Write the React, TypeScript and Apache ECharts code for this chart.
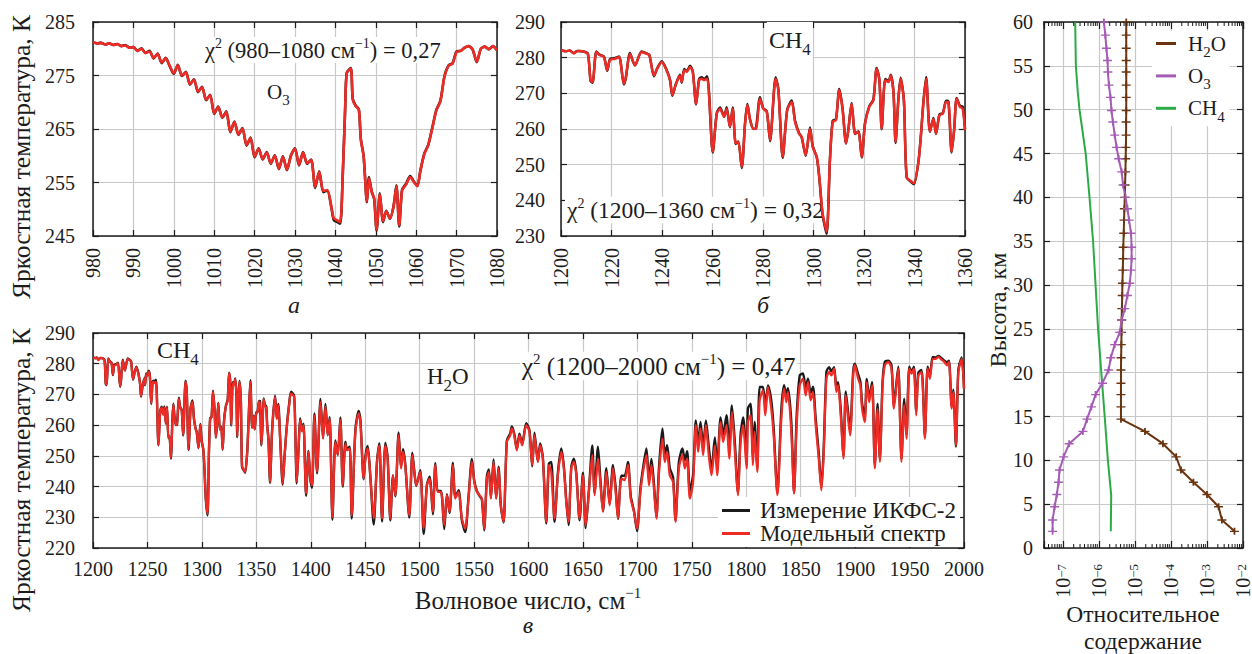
import React, { useEffect, useRef } from 'react';
import * as echarts from 'echarts';

// ---------- Brightness temperature spectra (K): IKFS-2 measurement and model ----------

// O3 band, 980–1080 cm-1
const o3Wavenumber = [
  980, 981, 982, 983, 984, 985, 986, 987, 988, 989, 990, 991, 992, 993, 994, 995, 996, 997, 998, 999,
  1000, 1001, 1002, 1003, 1004, 1005, 1006, 1007, 1008, 1009, 1010, 1011, 1012, 1013, 1014, 1015, 1016, 1017, 1018, 1019,
  1020, 1021, 1022, 1023, 1024, 1025, 1026, 1027, 1028, 1029, 1030, 1031, 1032, 1033, 1034, 1035, 1036, 1037, 1038, 1039,
  1039.6, 1040.5, 1041.2, 1041.8, 1042.4, 1042.8, 1043.8, 1044.3, 1045, 1045.8, 1046.3, 1047, 1047.8, 1048.3, 1049, 1049.6,
  1050.2, 1051, 1051.8, 1052.6, 1053.5, 1054.4, 1055.1, 1055.8, 1056.5, 1057.5, 1058.5, 1059.5, 1060.3, 1061, 1062, 1063,
  1064, 1065, 1066, 1067, 1068, 1069, 1070, 1071, 1072, 1073, 1074, 1075, 1076, 1077, 1078, 1079, 1080,
];
const o3Model = [
  281.2, 281.0, 281.1, 280.8, 281.0, 280.7, 280.9, 280.5, 280.6, 280.2, 280.3, 279.6, 280.0, 279.2, 279.5, 278.3, 279.0, 277.4, 278.2, 276.8,
  275.4, 276.9, 275.0, 275.6, 273.4, 274.2, 272.0, 272.8, 270.5, 271.3, 267.9, 269.1, 267.2, 268.2, 264.5, 266.3, 264.0, 265.1, 262.0, 263.3,
  259.8, 261.3, 259.4, 260.6, 258.6, 260.0, 257.6, 259.8, 257.4, 260.0, 261.3, 258.3, 260.6, 258.6, 259.2, 254.2, 257.0, 253.4, 253.6, 250.5,
  248.3, 247.9, 247.6, 256.0, 268.5, 275.4, 276.3, 270.5, 269.3, 268.6, 263.0, 259.8, 251.5, 255.8, 253.2, 252.0,
  246.2, 252.8, 247.8, 249.6, 248.3, 250.5, 254.3, 247.0, 253.5, 254.6, 256.0, 255.0, 254.3, 257.0, 260.3, 262.0,
  265.2, 268.5, 270.2, 274.8, 276.8, 277.2, 279.4, 279.6, 280.2, 280.5, 279.8, 277.6, 280.0, 280.4, 279.9, 280.5, 279.7,
];
const o3Measured = [
  281.2, 281.0, 281.1, 280.8, 281.0, 280.7, 280.9, 280.5, 280.7, 280.2, 280.3, 279.6, 280.1, 279.2, 279.6, 278.2, 279.1, 277.3, 278.3, 276.7,
  275.3, 277.0, 274.9, 275.7, 273.3, 274.3, 271.9, 272.9, 270.4, 271.4, 267.8, 269.2, 267.1, 268.3, 264.4, 266.4, 263.9, 265.2, 261.9, 263.4,
  259.7, 261.4, 259.3, 260.7, 258.5, 260.1, 257.5, 259.9, 257.3, 260.1, 261.4, 258.2, 260.7, 258.5, 259.3, 254.0, 257.1, 253.2, 253.5, 250.3,
  248.0, 247.6, 247.3, 256.0, 268.5, 275.5, 276.4, 270.6, 269.4, 268.7, 263.1, 259.9, 251.3, 256.0, 253.3, 251.9,
  246.0, 253.0, 247.6, 249.7, 248.2, 250.6, 254.5, 246.8, 253.6, 254.8, 256.2, 255.1, 254.4, 257.1, 260.4, 262.1,
  265.3, 268.6, 270.3, 274.9, 276.9, 277.3, 279.5, 279.6, 280.2, 280.5, 279.8, 277.5, 280.0, 280.4, 279.9, 280.5, 279.7,
];

// CH4 band, 1200–1360 cm-1
const ch4Wavenumber = [
  1200, 1202, 1203.5, 1205, 1206.5, 1208.5, 1210.6, 1211.7, 1212.5, 1214, 1215.4, 1217, 1218.3, 1219.4, 1221.4, 1223,
  1224.9, 1225.7, 1227.3, 1229.3, 1231.9, 1233.9, 1235, 1236.8, 1238.1, 1239.9, 1241.8, 1243.2, 1244.1, 1245.4, 1247.1, 1247.8,
  1248.8, 1249.8, 1251.1, 1252.2, 1253.5, 1254.7, 1255.7, 1256.6, 1257.9, 1260.1, 1261.7, 1263, 1264.6, 1265.6, 1266.9, 1268,
  1269.2, 1270.2, 1271.6, 1272.9, 1273.8, 1274.9, 1276.2, 1277.2, 1278.8, 1280.1, 1281.5, 1282.8, 1285, 1286.1, 1287.8, 1289.6,
  1291.4, 1292.7, 1294.3, 1295.3, 1296.9, 1298.6, 1299.7, 1301.3, 1302.3, 1303.6, 1305.2, 1306.5, 1307.6, 1308.9, 1310.2, 1311.5,
  1312.9, 1313.8, 1315.1, 1316.5, 1317.8, 1319.1, 1320.4, 1322.1, 1323.7, 1325, 1326.1, 1327, 1328.4, 1329.7, 1330.6, 1331.7,
  1332.5, 1333.6, 1334.5, 1335.8, 1336.9, 1338.9, 1339.8, 1341.5, 1342.4, 1343.5, 1344.6, 1346.1, 1347.5, 1348.5, 1349.9, 1351.2,
  1352.5, 1353.4, 1354.7, 1355.7, 1356.7, 1358, 1359.1, 1360,
];
const ch4Model = [
  282.1, 281.8, 282.0, 281.2, 281.9, 281.8, 281.1, 273.7, 273.2, 281.6, 280.7, 280.2, 276.5, 279.3, 279.7, 280.2,
  272.7, 274.6, 281.1, 277.9, 281.6, 281.1, 280.7, 275.0, 276.9, 278.8, 276.5, 273.7, 269.5, 272.3, 275.0, 273.2,
  276.5, 276.0, 277.4, 276.0, 267.1, 273.7, 274.1, 273.7, 274.1, 253.6, 264.3, 265.7, 263.4, 265.7, 260.6, 265.7,
  256.0, 256.4, 249.4, 261.5, 266.7, 262.5, 260.1, 260.1, 268.5, 265.7, 264.8, 256.9, 274.1, 270.9, 252.2, 265.3,
  267.6, 262.0, 258.7, 257.8, 252.7, 260.1, 255.0, 252.2, 246.6, 236.4, 231.2, 251.3, 262.0, 262.5, 270.9, 265.7,
  256.0, 259.7, 267.1, 258.7, 259.2, 252.2, 261.5, 266.2, 268.0, 276.9, 273.7, 260.1, 273.7, 273.2, 275.0, 270.0,
  256.4, 268.0, 274.1, 268.0, 246.6, 245.2, 244.8, 250.4, 256.9, 267.1, 274.1, 259.2, 262.9, 258.7, 263.9, 264.3,
  267.6, 267.6, 253.6, 259.7, 268.5, 266.2, 265.7, 259.7,
];
const ch4Measured = [
  282.1, 281.8, 282.0, 281.3, 281.9, 281.8, 281.2, 273.5, 273.0, 281.7, 280.8, 280.3, 276.3, 279.6, 279.9, 280.3,
  272.5, 274.4, 281.3, 277.8, 281.7, 281.2, 280.8, 274.8, 277.0, 279.0, 276.6, 273.6, 269.3, 272.4, 275.2, 273.0,
  276.8, 276.2, 277.7, 276.1, 266.9, 274.0, 274.5, 274.0, 274.8, 253.4, 264.5, 266.0, 263.5, 266.1, 260.5, 266.0,
  255.8, 256.5, 249.1, 261.7, 267.0, 262.6, 260.0, 260.2, 268.9, 265.8, 265.0, 256.6, 274.5, 271.0, 251.9, 265.5,
  268.0, 262.3, 258.8, 257.7, 252.5, 260.4, 255.2, 252.0, 246.3, 236.0, 230.6, 251.2, 262.3, 262.7, 271.2, 265.8,
  255.9, 259.8, 267.3, 258.6, 259.4, 252.0, 261.6, 266.4, 268.2, 277.1, 273.8, 259.9, 274.0, 273.4, 275.2, 270.1,
  256.1, 268.2, 274.4, 268.1, 246.4, 245.0, 244.5, 250.5, 257.0, 267.3, 274.6, 259.2, 263.1, 258.6, 264.1, 264.4,
  267.9, 267.8, 253.4, 259.8, 268.7, 266.5, 266.2, 260.0,
];

// H2O band, 1360–2000 cm-1
const h2oWavenumber = [
  1361.2, 1362.6, 1364.5, 1367.2, 1368.8, 1370.2, 1372, 1374.2, 1376, 1377.9, 1380, 1381.9, 1384.7, 1385.8, 1387.1, 1388.8,
  1390.2, 1391.8, 1393.3, 1395.7, 1397.9, 1399.6, 1401.2, 1403.4, 1405.8, 1408.9, 1411.3, 1413.5, 1415.6, 1417.4, 1419.9, 1422.6,
  1424.8, 1427.2, 1429.4, 1431.8, 1433.3, 1435.8, 1437.6, 1441, 1444, 1445.6, 1448.6, 1450.2, 1452.3, 1454.7, 1457.8, 1460.9,
  1463, 1465.5, 1468.5, 1470.6, 1473.1, 1475.5, 1477.7, 1480.7, 1482.9, 1484.7, 1486.8, 1490.5, 1493.3, 1495.1, 1496.9, 1500.6,
  1503.7, 1506.7, 1509.2, 1512.2, 1514.4, 1516.5, 1519.6, 1522.6, 1525.1, 1527.5, 1530.6, 1532.7, 1535.8, 1538.8, 1541.9, 1544.9,
  1548, 1550.2, 1552.6, 1555, 1557.2, 1559.3, 1561.8, 1563.6, 1565.5, 1567.9, 1570.3, 1572.5, 1574.6, 1577.1, 1580.1, 1583.2,
  1584.7, 1586.9, 1589.3, 1591.7, 1594.2, 1597.9, 1600.9, 1603.4, 1605.5, 1608.6, 1610.7, 1613.2, 1616.3, 1618.7, 1620.9, 1623.9,
  1627, 1630.1, 1632.5, 1634.7, 1636.8, 1639.3, 1641.7, 1643.9, 1646.9, 1650, 1652.5, 1655.5, 1658.6, 1660.7, 1663.8, 1665.9,
  1668.4, 1671.5, 1674.5, 1677.6, 1680.1, 1682.2, 1685.3, 1688.3, 1691.4, 1693.9, 1696.9, 1699.7, 1702.8, 1705.2, 1708.3, 1710.7,
  1712.9, 1715, 1717.5, 1719.9, 1723, 1725.2, 1727.3, 1729.8, 1732.8, 1735, 1738.1, 1741.4, 1743.6, 1745.7, 1748.2, 1751.2,
  1753.7, 1755.8, 1758, 1760.4, 1762.9, 1765.6, 1768.1, 1771.2, 1773.3, 1776.4, 1778.8, 1781.9, 1784.4, 1786.8, 1789.6, 1792.3,
  1794.8, 1797.2, 1800.3, 1801.5, 1804, 1806.1, 1807.7, 1810.1, 1812.3, 1815.3, 1817.5, 1819.9, 1823, 1825.2, 1828.6, 1832.2,
  1834.7, 1836.8, 1838.3, 1841.4, 1843.9, 1846.3, 1849.1, 1852.1, 1854.6, 1856.7, 1859.2, 1861.3, 1863.8, 1866.6, 1869, 1871.2,
  1873.6, 1876.1, 1878.2, 1880.7, 1882.8, 1884.4, 1886.8, 1889.3, 1891.4, 1893.6, 1895.4, 1898.2, 1899.7, 1902.8, 1904.9, 1906.4,
  1908.9, 1910.7, 1912.9, 1915.6, 1918.1, 1920.6, 1922.7, 1925.2, 1927.3, 1930.4, 1933.4, 1935.6, 1937.4, 1939.6, 1942.6, 1945.1,
  1947.2, 1949.7, 1951.8, 1954, 1956.1, 1958, 1961, 1964.1, 1966.6, 1968.7, 1971.2, 1973.9, 1976.4, 1979.4, 1981.9, 1984.4,
  1986.2, 1988.7, 1990.2, 1992.6, 1994.8, 1997.9, 2000,
];
const h2oModel = [
  255.0, 241.5, 258.0, 269.2, 262.0, 266.5, 255.0, 241.0, 250.0, 258.9, 266.0, 270.3, 269.2, 258.0, 241.5, 252.0,
  261.6, 258.0, 260.0, 237.7, 251.3, 242.6, 240.4, 263.2, 244.8, 267.5, 255.6, 266.0, 256.7, 262.0, 230.1, 254.5,
  250.2, 261.6, 240.4, 254.0, 251.8, 252.4, 230.6, 257.8, 263.8, 261.0, 242.6, 249.1, 252.4, 243.7, 229.6, 248.0,
  253.4, 229.6, 253.4, 249.1, 229.6, 243.7, 237.2, 256.7, 245.9, 251.3, 247.0, 230.6, 250.2, 244.8, 240.4, 244.8,
  226.3, 240.4, 242.6, 231.8, 247.0, 238.3, 238.3, 227.4, 237.2, 231.8, 247.0, 236.1, 238.3, 229.6, 226.3, 236.1,
  248.0, 241.5, 238.3, 237.2, 236.1, 226.3, 242.6, 244.8, 236.1, 248.0, 236.1, 245.9, 233.9, 228.5, 254.5, 256.7,
  258.9, 256.7, 251.8, 256.7, 253.4, 260.0, 257.8, 247.0, 256.7, 248.0, 253.4, 249.1, 228.5, 247.0, 244.8, 229.6,
  243.7, 251.3, 245.9, 235.0, 228.5, 245.9, 248.0, 243.7, 229.6, 243.7, 227.4, 238.3, 250.2, 237.2, 249.1, 241.5,
  231.8, 244.8, 233.9, 245.9, 238.3, 229.6, 242.6, 242.1, 247.0, 236.1, 231.8, 226.3, 238.3, 244.8, 250.2, 240.4,
  247.0, 240.4, 229.6, 244.8, 255.6, 248.0, 251.3, 243.7, 241.5, 228.5, 245.9, 250.2, 245.9, 249.1, 236.1, 241.5,
  260.0, 251.3, 258.9, 250.2, 260.0, 250.2, 243.7, 253.4, 243.7, 261.0, 254.5, 260.0, 249.1, 264.3, 251.3, 237.2,
  254.5, 260.0, 245.9, 261.0, 263.2, 247.0, 257.8, 244.8, 268.1, 271.3, 263.2, 272.4, 265.4, 256.7, 237.2, 262.0,
  271.9, 267.5, 270.8, 257.8, 237.7, 260.0, 273.0, 275.1, 269.7, 274.0, 268.1, 270.8, 260.0, 249.1, 238.8, 251.3,
  275.1, 277.3, 276.2, 278.4, 270.8, 272.9, 263.2, 249.1, 269.7, 262.0, 256.7, 276.2, 279.5, 275.1, 272.9, 265.4,
  261.0, 274.0, 267.5, 272.9, 245.9, 265.4, 248.0, 272.9, 279.5, 280.6, 278.4, 265.4, 270.8, 278.4, 248.0, 266.5,
  255.6, 278.4, 276.8, 278.4, 263.2, 276.2, 277.3, 255.6, 278.4, 275.1, 281.6, 281.6, 282.2, 281.3, 280.6, 279.5,
  280.6, 265.4, 270.8, 253.4, 277.3, 281.6, 271.9,
];
const h2oMeasured = [
  255.2, 241.2, 258.3, 269.6, 262.2, 266.9, 254.8, 240.6, 250.2, 259.3, 266.4, 270.9, 269.6, 258.2, 241.0, 252.3,
  262.2, 258.4, 260.5, 237.0, 251.6, 242.3, 239.6, 263.8, 244.3, 268.5, 255.8, 266.9, 256.8, 262.6, 229.2, 255.0,
  250.3, 262.5, 240.0, 254.6, 252.2, 253.0, 229.6, 258.6, 264.6, 261.8, 242.4, 249.8, 253.2, 243.4, 227.6, 248.6,
  254.1, 228.6, 254.2, 249.6, 229.0, 243.6, 236.8, 257.6, 246.3, 252.2, 247.4, 229.9, 251.0, 245.2, 240.2, 245.3,
  224.6, 240.6, 243.2, 231.0, 247.6, 238.5, 238.6, 226.2, 237.5, 231.4, 247.8, 236.4, 238.8, 229.0, 225.2, 236.6,
  249.0, 241.8, 238.6, 237.0, 235.8, 225.8, 243.5, 245.6, 236.3, 248.8, 236.2, 246.5, 233.6, 228.3, 255.0, 257.3,
  259.6, 257.2, 252.3, 257.2, 253.9, 260.6, 258.3, 246.6, 257.5, 248.2, 254.0, 249.5, 228.0, 247.5, 248.0, 228.5,
  244.5, 252.4, 246.5, 235.5, 227.5, 246.5, 249.1, 244.5, 229.0, 244.5, 226.5, 239.0, 253.4, 238.0, 253.0, 243.0,
  232.0, 246.0, 234.5, 247.0, 239.5, 229.5, 243.5, 243.5, 248.0, 237.0, 232.0, 225.5, 239.5, 246.0, 252.4, 242.0,
  249.0, 242.0, 230.0, 246.5, 258.9, 250.5, 253.5, 246.0, 243.0, 229.0, 248.0, 252.4, 248.5, 251.5, 238.5, 244.0,
  261.5, 254.0, 261.0, 253.0, 261.5, 253.0, 245.5, 256.0, 246.0, 262.5, 257.0, 263.2, 252.0, 266.4, 254.0, 238.0,
  257.0, 262.5, 249.1, 265.4, 267.0, 250.0, 261.0, 246.0, 272.4, 272.4, 266.0, 272.9, 268.0, 259.0, 238.0, 265.0,
  273.0, 270.0, 272.0, 261.0, 238.0, 263.0, 276.2, 276.8, 272.0, 275.1, 270.5, 272.5, 262.0, 251.0, 239.5, 253.0,
  277.3, 278.9, 277.5, 278.9, 272.0, 274.0, 265.0, 250.0, 271.0, 264.0, 258.0, 277.5, 280.0, 276.5, 274.0, 267.0,
  263.0, 275.0, 269.0, 274.0, 247.0, 267.0, 249.0, 274.0, 280.6, 281.0, 279.5, 266.5, 272.0, 279.0, 249.0, 268.6,
  257.0, 279.0, 277.5, 279.0, 264.5, 277.0, 278.0, 256.5, 279.0, 276.0, 282.2, 282.0, 282.5, 281.8, 281.0, 280.5,
  281.0, 266.0, 271.5, 253.0, 278.0, 282.0, 272.0,
];

// ---------- Vertical profiles: relative content vs. altitude ----------
const profileAltitudeKm = [
  1.9, 3.2, 4.7, 6.1, 7.5, 8.9, 10.4, 11.9, 13.3, 14.7, 16.1, 17.5, 18.8, 20.3, 21.7, 23.2, 24.6, 26.0, 27.3, 28.8, 30.2,
  31.7, 33.0, 34.3, 35.9, 37.4, 38.7, 40.0, 41.4, 42.9, 44.4, 45.7, 47.1, 48.6, 49.9, 51.4, 52.8, 54.3, 55.6, 57.0, 58.5, 60.0,
];
const h2oVmr = [
  5.8e-3, 2.6e-3, 2.1e-3, 1.0e-3, 4.2e-4, 1.9e-4, 1.4e-4, 6.0e-5, 1.9e-5, 4.1e-6, 4.1e-6, 4.1e-6, 4.1e-6, 4.1e-6, 4.15e-6,
  4.2e-6, 4.25e-6, 4.3e-6, 4.35e-6, 4.45e-6, 4.5e-6, 4.6e-6, 4.7e-6, 4.75e-6, 4.9e-6, 5.0e-6, 5.1e-6, 5.25e-6, 5.35e-6,
  5.45e-6, 5.55e-6, 5.6e-6, 5.7e-6, 5.7e-6, 5.75e-6, 5.75e-6, 5.75e-6, 5.75e-6, 5.75e-6, 5.75e-6, 5.75e-6, 5.75e-6,
];
const o3Vmr = [
  5.2e-8, 5.2e-8, 5.9e-8, 6.8e-8, 7.6e-8, 8.1e-8, 1.05e-7, 1.5e-7, 3.6e-7, 4.7e-7, 6.2e-7, 8.1e-7, 1.26e-6, 1.86e-6, 2.14e-6,
  2.75e-6, 3.8e-6, 4.3e-6, 5.25e-6, 6.2e-6, 7.2e-6, 7.8e-6, 8.1e-6, 8.1e-6, 7.8e-6, 6.9e-6, 6.2e-6, 5.5e-6, 4.7e-6,
  4.3e-6, 3.55e-6, 3.1e-6, 2.75e-6, 2.45e-6, 2.24e-6, 2.1e-6, 1.9e-6, 1.78e-6, 1.74e-6, 1.62e-6, 1.51e-6, 1.38e-6,
];
const ch4AltitudeKm = [1.9, 6, 10, 15, 20, 25, 30, 35, 40, 45, 50, 52, 55, 60];
const ch4Vmr = [2.14e-6, 2.2e-6, 1.78e-6, 1.45e-6, 1.17e-6, 9.5e-7, 8.1e-7, 6.9e-7, 5.5e-7, 4.3e-7, 2.9e-7, 2.6e-7, 2.3e-7, 2.2e-7];

const MEASURED = 'Измерение ИКФС-2';
const MODEL = 'Модельный спектр';
const PROFILE_NAMES = ['H2O', 'O3', 'CH4'];

// ---------- styling ----------
const FONT = '"Liberation Serif", "Times New Roman", serif';
const INK = '#1c1c1c';
const GRID_GRAY = '#c8c8c8';
const RED = '#ee2b25';
const BLACK = '#1a1a1a';
const BROWN = '#6a3410';
const PURPLE = '#a45cb4';
const GREEN = '#2caa48';
const PLUS = 'path://M0,4H10V6H0Z M4,0H6V10H4Z';

const pairs = (xs: number[], ys: number[]) => xs.map((x, i) => [x, ys[i]]);
const plainNumber = (v: number) => String(v);

// rich text styles for chemical subscripts / superscripts
function richFor(size: number, mode: 'sup' | 'sub', italic = false, lineHeight?: number) {
  const supSize = Math.round(size * 0.6);
  const subSize = Math.round(size * 0.72);
  const lh = lineHeight || (mode === 'sup' ? supSize + size * 0.54 : subSize + size * 0.8);
  const base = { fontFamily: FONT, color: INK, fontStyle: italic ? 'italic' : 'normal' };
  return {
    n: { ...base, fontSize: size, lineHeight: lh },
    sup: { ...base, fontSize: supSize, lineHeight: supSize, verticalAlign: 'top' },
    sub: { ...base, fontSize: subSize, lineHeight: subSize, verticalAlign: 'bottom' },
  };
}

function note(x: number, y: number, text: string, size: number, mode: 'sup' | 'sub', extra: any = {}) {
  return {
    type: 'text',
    x,
    y,
    z: 1,
    rotation: extra.rotation || 0,
    style: {
      text,
      rich: richFor(size, mode, extra.italic, extra.lineHeight),
      fontSize: size,
      fontFamily: FONT,
      fill: INK,
      align: extra.align || 'left',
      textAlign: extra.align || 'left',
      verticalAlign: 'middle',
      textVerticalAlign: 'middle',
      backgroundColor: extra.bg === false ? 'transparent' : '#fff',
      padding: [0, 2],
    },
  };
}

const tickStyle = { show: true, inside: true, length: 6, lineStyle: { color: INK, width: 1.2 } };
const lineStyleAxis = { show: true, onZero: false, lineStyle: { color: INK, width: 1.5 } };
const labelBase = { fontSize: 20, fontFamily: FONT, color: INK, formatter: plainNumber };

function mainX(gridIndex: number, min: number, max: number, interval: number, rotate: number) {
  return {
    type: 'value', gridIndex, min, max, interval, position: 'bottom',
    axisLine: lineStyleAxis,
    axisTick: tickStyle,
    axisLabel: { ...labelBase, rotate, margin: rotate ? 12 : 11, hideOverlap: false },
    splitLine: { show: true, lineStyle: { color: GRID_GRAY, width: 1.2 } },
  };
}
function mainY(gridIndex: number, min: number, max: number, interval: number, margin: number) {
  return {
    type: 'value', gridIndex, min, max, interval, position: 'left',
    axisLine: lineStyleAxis,
    axisTick: tickStyle,
    axisLabel: { ...labelBase, margin, hideOverlap: false },
    splitLine: { show: true, lineStyle: { color: GRID_GRAY, width: 1.2 } },
  };
}
function mirror(gridIndex: number, position: string, min: number, max: number, interval?: number, type = 'value') {
  const ax: any = {
    type, gridIndex, min, max, position,
    axisLine: lineStyleAxis,
    axisTick: tickStyle,
    axisLabel: { show: false },
    splitLine: { show: false },
  };
  if (interval !== undefined) ax.interval = interval;
  return ax;
}

function spectrum(name: string, data: number[][], color: string, width: number, axis: number, z: number) {
  return {
    type: 'line', name, data, xAxisIndex: axis, yAxisIndex: axis,
    symbol: 'none', showSymbol: false, silent: true, clip: true, z, smooth: 0.25,
    lineStyle: { color, width, join: 'round' }, itemStyle: { color },
  };
}

function profile(name: string, data: number[][], color: string, withMarks: boolean) {
  return {
    type: 'line', name, data, xAxisIndex: 6, yAxisIndex: 6, silent: true, z: 3,
    symbol: withMarks ? PLUS : 'none', showSymbol: withMarks, symbolSize: [9, 7],
    lineStyle: { color, width: 2 }, itemStyle: { color },
  };
}

const powerLabel = (v: number) => {
  const e = Math.log10(v);
  const r = Math.round(e);
  if (Math.abs(e - r) > 1e-6) return '';
  return `{b|10}{e|−${-r}}`;
};

// log-axis minor tick positions (2…9 × 10^n)
const LOG_MIN = 3e-8;
const LOG_MAX = 1e-2;
const minorLogTicks: number[] = [];
for (let p = -8; p <= -3; p++) {
  for (let m = 2; m <= 9; m++) {
    const v = m * Math.pow(10, p);
    if (v > LOG_MIN * 0.999 && v < LOG_MAX) minorLogTicks.push(v);
  }
}

function buildOption(): any {
  const subRich = richFor(21, 'sub');
  return {
    animation: false,
    backgroundColor: '#fff',
    textStyle: { fontFamily: FONT },
    grid: [
      { left: 93, top: 22, width: 404, height: 214, containLabel: false, outerBoundsMode: 'none' },
      { left: 561, top: 22, width: 404, height: 214, containLabel: false, outerBoundsMode: 'none' },
      { left: 93, top: 333, width: 871, height: 215, containLabel: false, outerBoundsMode: 'none' },
      { left: 1044, top: 22, width: 199, height: 526, containLabel: false, outerBoundsMode: 'none' },
    ],
    xAxis: [
      mainX(0, 980, 1080, 10, 90),
      mirror(0, 'top', 980, 1080, 10),
      mainX(1, 1200, 1360, 20, 90),
      mirror(1, 'top', 1200, 1360, 20),
      mainX(2, 1200, 2000, 50, 0),
      mirror(2, 'top', 1200, 2000, 50),
      {
        type: 'log', logBase: 10, gridIndex: 3, min: LOG_MIN, max: LOG_MAX, position: 'bottom',
        axisLine: lineStyleAxis,
        axisTick: { ...tickStyle, length: 7 },
        axisLabel: {
          rotate: 90, margin: 16, hideOverlap: false, formatter: powerLabel,
          rich: {
            b: { fontSize: 20, fontFamily: FONT, color: INK, lineHeight: 16 },
            e: { fontSize: 13, fontFamily: FONT, color: INK, lineHeight: 10, verticalAlign: 'top' },
          },
        },
        splitLine: { show: true, lineStyle: { color: GRID_GRAY, width: 1.2 } },
      },
      { ...mirror(3, 'top', LOG_MIN, LOG_MAX, undefined, 'log'), logBase: 10, axisTick: { ...tickStyle, length: 7 } },
    ],
    yAxis: [
      mainY(0, 245, 285, 10, 18),
      mirror(0, 'right', 245, 285, 10),
      mainY(1, 230, 290, 10, 16),
      mirror(1, 'right', 230, 290, 10),
      mainY(2, 220, 290, 10, 18),
      mirror(2, 'right', 220, 290, 10),
      mainY(3, 0, 60, 5, 11),
      mirror(3, 'right', 0, 60, 5),
    ],
    legend: [
      {
        data: [MEASURED, MODEL],
        orient: 'vertical', left: 718, top: 497, itemGap: 0, itemWidth: 28, itemHeight: 3,
        icon: 'rect', backgroundColor: '#fff', padding: [2, 4, 2, 4], selectedMode: false,
        textStyle: { fontSize: 23, fontFamily: FONT, color: INK, lineHeight: 22, padding: [0, 0, 0, 5] },
      },
      {
        data: PROFILE_NAMES,
        orient: 'vertical', left: 1152, top: 31, itemGap: 6, itemWidth: 20, itemHeight: 3,
        icon: 'rect', backgroundColor: '#fff', padding: [2, 4, 2, 4], selectedMode: false,
        formatter: (name: string) =>
          name === 'H2O' ? '{n|H}{sub|2}{n|O}' : name === 'O3' ? '{n|O}{sub|3}' : '{n|CH}{sub|4}',
        textStyle: { fontSize: 21, fontFamily: FONT, color: INK, rich: subRich, padding: [0, 0, 0, 7] },
      },
    ],
    series: [
      spectrum(MEASURED, pairs(o3Wavenumber, o3Measured), BLACK, 2.6, 0, 2),
      spectrum(MODEL, pairs(o3Wavenumber, o3Model), RED, 2.6, 0, 3),
      spectrum(MEASURED, pairs(ch4Wavenumber, ch4Measured), BLACK, 2.5, 2, 2),
      spectrum(MODEL, pairs(ch4Wavenumber, ch4Model), RED, 2.5, 2, 3),
      spectrum(MEASURED, pairs(ch4Wavenumber.concat(h2oWavenumber), ch4Measured.concat(h2oMeasured)), BLACK, 2.4, 4, 2),
      spectrum(MODEL, pairs(ch4Wavenumber.concat(h2oWavenumber), ch4Model.concat(h2oModel)), RED, 2.3, 4, 3),
      profile('H2O', pairs(h2oVmr, profileAltitudeKm), BROWN, true),
      profile('O3', pairs(o3Vmr, profileAltitudeKm), PURPLE, true),
      profile('CH4', pairs(ch4Vmr, ch4AltitudeKm), GREEN, false),
      {
        type: 'custom', xAxisIndex: 6, yAxisIndex: 6, silent: true, z: 5, clip: false,
        data: minorLogTicks.map((v) => [v, 0]),
        renderItem: (params: any, api: any) => {
          const x = api.coord([api.value(0), 0])[0];
          const cs = params.coordSys;
          const top = cs.y;
          const bottom = cs.y + cs.height;
          return {
            type: 'group',
            children: [
              { type: 'line', shape: { x1: x, y1: bottom, x2: x, y2: bottom - 4 }, style: { stroke: INK, lineWidth: 1 } },
              { type: 'line', shape: { x1: x, y1: top, x2: x, y2: top + 4 }, style: { stroke: INK, lineWidth: 1 } },
            ],
          };
        },
      },
    ],
    graphic: [
      // in-panel annotations
      note(203, 50, '{n|χ}{sup|2}{n| (980–1080 см}{sup|−1}{n|) = 0,27}', 22.5, 'sup'),
      note(265, 92, '{n|O}{sub|3}', 21, 'sub', { bg: false }),
      note(767, 40, '{n|CH}{sub|4}', 24, 'sub'),
      note(565, 210, '{n|χ}{sup|2}{n| (1200–1360 см}{sup|−1}{n|) = 0,32}', 23.5, 'sup'),
      note(155, 350, '{n|CH}{sub|4}', 24, 'sub', { bg: false }),
      note(425, 376, '{n|H}{sub|2}{n|O}', 23, 'sub', { bg: false }),
      note(520, 366, '{n|χ}{sup|2}{n| (1200–2000 см}{sup|−1}{n|) = 0,47}', 25, 'sup'),
      // panel letters
      note(294, 305, '{n|а}', 24, 'sup', { italic: true, align: 'center', bg: false }),
      note(763, 305, '{n|б}', 24, 'sup', { italic: true, align: 'center', bg: false }),
      note(528, 625, '{n|в}', 24, 'sup', { italic: true, align: 'center', bg: false }),
      // axis titles
      note(21, 157, '{n|Яркостная температура, К}', 25.5, 'sup', { rotation: Math.PI / 2, align: 'center', bg: false }),
      note(21, 470, '{n|Яркостная температура, К}', 25.5, 'sup', { rotation: Math.PI / 2, align: 'center', bg: false }),
      note(528, 600, '{n|Волновое число, см}{sup|−1}', 25, 'sup', { align: 'center', bg: false }),
      note(998, 310, '{n|Высота, км}', 24, 'sup', { rotation: Math.PI / 2, align: 'center', bg: false }),
      note(1143, 627, '{n|Относительное}\n{n|содержание}', 23.5, 'sup', { align: 'center', bg: false, lineHeight: 27 }),
    ],
  };
}

export default function App() {
  const ref = useRef<HTMLDivElement>(null);
  useEffect(() => {
    if (!ref.current) return;
    const chart = echarts.init(ref.current, null, { renderer: 'svg' });
    chart.setOption(buildOption());
    return () => chart.dispose();
  }, []);
  return (
    <div
      ref={ref}
      style={{ position: 'fixed', left: 0, top: 0, width: 1252, height: 654, background: '#fff' }}
    />
  );
}
